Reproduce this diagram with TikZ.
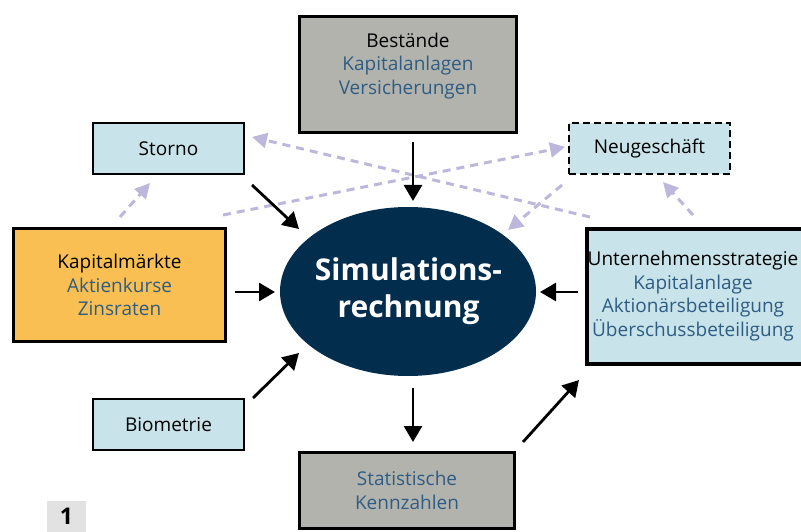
\documentclass[tikz,border=0pt]{standalone}
\usepackage{fontspec}
\setmainfont{Open Sans}
\usetikzlibrary{arrows.meta,shapes.geometric}
\definecolor{lblue}{HTML}{C8E4EA}
\definecolor{korange}{HTML}{F9BF52}
\definecolor{kgrey}{HTML}{B3B3AE}
\definecolor{navy}{HTML}{032D4D}
\definecolor{tblue}{HTML}{2F5C82}
\definecolor{lav}{HTML}{BDB7DC}
\definecolor{numgrey}{HTML}{E2E2E2}
\begin{document}
\begin{tikzpicture}[x=1pt,y=-1pt,
  box/.style={draw=black, rectangle, inner sep=0pt},
  txt/.style={align=center, font=\fontsize{19}{23.5}\selectfont, inner sep=0pt},
  blk/.style={-{Triangle[length=16pt,width=18pt]}, line width=2.8pt},
  dsh/.style={-{Triangle[length=15pt,width=15pt]}, draw=lav, line width=3pt, dash pattern=on 8pt off 6pt},
  sub/.style={text=tblue}
]
\useasboundingbox (0,0) rectangle (801,532);
% boxes
\node[box, fill=kgrey, line width=3.5pt, minimum width=217pt, minimum height=116pt] (best) at (408,74.5) {};
\node[txt] (bestT) at (408,66) {Bestände\\ \textcolor{tblue}{Kapitalanlagen}\\ \textcolor{tblue}{Versicherungen}};
\node[box, fill=lblue, line width=2pt, minimum width=151pt, minimum height=51pt, txt] (storno) at (168.5,148.5) {Storno};
\node[box, fill=lblue, line width=2pt, dash pattern=on 7pt off 4pt, minimum width=161pt, minimum height=51pt, txt] (neu) at (649.5,148.5) {Neugeschäft};
\node[box, fill=korange, line width=3pt, minimum width=212pt, minimum height=113pt, txt] (kap) at (119.5,285) {Kapitalmärkte\\ \textcolor{tblue}{Aktienkurse}\\ \textcolor{tblue}{Zinsraten}};
\node[box, fill=lblue, line width=4pt, minimum width=233pt, minimum height=135pt] (unt) at (703.5,296.5) {};
\node[txt] (untT) at (693,296) {Unternehmensstrategie\\ \textcolor{tblue}{Kapitalanlage}\\ \textcolor{tblue}{Aktionärsbeteiligung}\\ \textcolor{tblue}{Überschussbeteiligung}};
\node[box, fill=lblue, line width=2pt, minimum width=151pt, minimum height=51pt, txt] (bio) at (168.5,424.5) {Biometrie};
\node[box, fill=kgrey, line width=3pt, minimum width=215pt, minimum height=76pt, txt, text=tblue] (stat) at (407,490.5) {Statistische\\ Kennzahlen};
\node[ellipse, fill=navy, minimum width=256pt, minimum height=169pt, inner sep=0pt] (sim) at (408,291.5) {};
\node[align=center, text=white, font=\fontsize{30}{37}\selectfont\bfseries, inner sep=0pt] (simT) at (408.5,291) {Simulations-\\ rechnung};
\node[fill=numgrey, minimum width=39pt, minimum height=31pt, inner sep=0pt, font=\fontsize{23}{25}\selectfont\bfseries] (num) at (66.5,516.5) {1};
% connector end points
\coordinate (a1) at (413,142); \coordinate (a2) at (413,201);
\coordinate (b1) at (252,185); \coordinate (b2) at (299,229);
\coordinate (c1) at (235,292); \coordinate (c2) at (275,292);
\coordinate (d1) at (578,292); \coordinate (d2) at (540,292);
\coordinate (e1) at (253,398); \coordinate (e2) at (299,353);
\coordinate (f1) at (413,388); \coordinate (f2) at (413,442);
\coordinate (g1) at (523,442); \coordinate (g2) at (579,380);
\coordinate (h1) at (590,217); \coordinate (h2) at (252,137);
\coordinate (i1) at (223,215); \coordinate (i2) at (565,147);
\coordinate (j1) at (120,217); \coordinate (j2) at (150,183);
\coordinate (k1) at (693,215); \coordinate (k2) at (663,182);
\coordinate (l1) at (562,185); \coordinate (l2) at (508,230);
% dashed
\draw[dsh] (h1) -- (h2);
\draw[dsh] (i1) -- (i2);
\draw[dsh] (j1) -- (j2);
\draw[dsh] (k1) -- (k2);
\draw[dsh] (l1) -- (l2);
% black
\draw[blk] (a1) -- (a2);
\draw[blk] (b1) -- (b2);
\draw[blk] (c1) -- (c2);
\draw[blk] (d1) -- (d2);
\draw[blk] (e1) -- (e2);
\draw[blk] (f1) -- (f2);
\draw[blk] (g1) -- (g2);
\end{tikzpicture}
\end{document}
